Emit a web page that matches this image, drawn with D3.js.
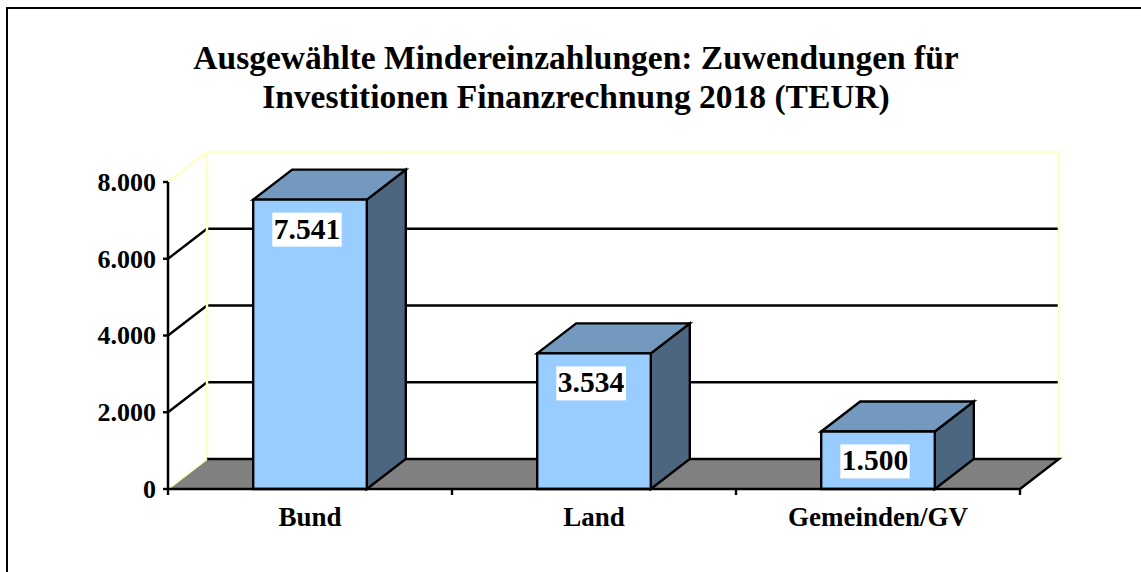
<!DOCTYPE html>
<html>
<head>
<meta charset="utf-8">
<script src="https://cdn.jsdelivr.net/npm/d3@7"></script>
<style>
  html, body { margin: 0; padding: 0; background: #fff; }
  svg { display: block; }
  text { font-family: "Liberation Serif", serif; font-weight: bold; fill: #000; }
</style>
</head>
<body>
<svg id="chart" width="1141" height="572"></svg>
<script>
// data
const categories = ["Bund", "Land", "Gemeinden/GV"];
const values = [7541, 3534, 1500];
const yTicks = [0, 2000, 4000, 6000, 8000];
const titleLines = [
  "Ausgewählte Mindereinzahlungen: Zuwendungen für",
  "Investitionen Finanzrechnung 2018 (TEUR)"
];

const fmt = (v) => d3.format(",")(v).replace(/,/g, ".");

const svg = d3.select("#chart");
const W = 1141, H = 572;

// frame (only left/top edges fall inside the picture)
svg.append("rect").attr("x", 7).attr("y", 8).attr("width", W + 20).attr("height", H + 20)
  .attr("fill", "none").attr("stroke", "#000").attr("stroke-width", 2);

// title
svg.append("g").selectAll("text").data(titleLines).join("text")
  .attr("x", 576).attr("y", (d, i) => 69 + i * 39).attr("text-anchor", "middle")
  .attr("font-size", 33.5).text((d) => d);

// 3d geometry
const DX = 39, DY = -30;
const x = d3.scaleBand().domain(categories).range([168, 1020]).padding(0);
const y = d3.scaleLinear().domain([0, 8000]).range([489, 182]);
const x0 = x.range()[0], x1 = x.range()[1];
const poly = (pts) => pts.map((p) => `${p[0]},${p[1]}`).join(" ");
const wallEdge = "#ffffc8";

// back wall
svg.append("polygon")
  .attr("points", poly([[x0 + DX, y(8000) + DY], [x1 + DX, y(8000) + DY], [x1 + DX, y(0) + DY], [x0 + DX, y(0) + DY]]))
  .attr("fill", "#fff").attr("stroke", "none");

// gridlines on side wall and back wall
const grid = yTicks.filter((t) => t > 0 && t < 8000);
svg.append("g").selectAll("polyline").data(grid).join("polyline")
  .attr("points", (t) => poly([[x0, y(t)], [x0 + DX, y(t) + DY], [x1 + DX, y(t) + DY]]))
  .attr("fill", "none").attr("stroke", "#000").attr("stroke-width", 2.4);

// wall edges (pale yellow)
svg.append("polyline")
  .attr("points", poly([[x0, y(8000)], [x0 + DX, y(8000) + DY], [x1 + DX, y(8000) + DY], [x1 + DX, y(0) + DY]]))
  .attr("fill", "none").attr("stroke", wallEdge).attr("stroke-width", 2.5);
svg.append("line")
  .attr("x1", x0 + DX).attr("y1", y(8000) + DY).attr("x2", x0 + DX).attr("y2", y(0) + DY)
  .attr("stroke", wallEdge).attr("stroke-width", 2.5);

// floor
svg.append("polygon")
  .attr("points", poly([[x0, y(0)], [x1, y(0)], [x1 + DX, y(0) + DY], [x0 + DX, y(0) + DY]]))
  .attr("fill", "#808080").attr("stroke", "none");
svg.append("polyline")
  .attr("points", poly([[x0 + DX, y(0) + DY], [x1 + DX, y(0) + DY], [x1, y(0)]]))
  .attr("fill", "none").attr("stroke", "#000").attr("stroke-width", 2.4);
svg.append("line")
  .attr("x1", x0).attr("y1", y(0)).attr("x2", x0 + DX).attr("y2", y(0) + DY)
  .attr("stroke", wallEdge).attr("stroke-width", 2);

// bars (front, top, side faces)
const bw = x.bandwidth() * 0.4;
const bars = svg.append("g").selectAll("g").data(categories).join("g");
bars.each(function (c, i) {
  const g = d3.select(this);
  const l = x(c) + (x.bandwidth() - bw) / 2, r = l + bw;
  const top = y(values[i]), bot = y(0);
  const face = (pts, fill) => g.append("polygon").attr("points", poly(pts)).attr("fill", fill)
    .attr("stroke", "#000").attr("stroke-width", 2.4).attr("stroke-linejoin", "miter");
  face([[r, top], [r + DX, top + DY], [r + DX, bot + DY], [r, bot]], "#4d6680");
  face([[l, top], [l + DX, top + DY], [r + DX, top + DY], [r, top]], "#7399bf");
  face([[l, top], [r, top], [r, bot], [l, bot]], "#99ccff");
});

// data labels on white boxes
bars.each(function (c, i) {
  const g = d3.select(this);
  const cx = x(c) + x.bandwidth() / 2 - 3;
  const ty = y(values[i]) + 13;
  const t = g.append("text").attr("x", cx).attr("y", ty + 26).attr("text-anchor", "middle")
    .attr("font-size", 29.5).text(fmt(values[i]));
  const bb = t.node().getBBox();
  g.insert("rect", "text").attr("x", bb.x - 1.5).attr("y", ty).attr("width", bb.width + 3)
    .attr("height", 34).attr("fill", "#fff");
});

// y axis
svg.append("line").attr("x1", x0).attr("x2", x0).attr("y1", y(8000)).attr("y2", y(0))
  .attr("stroke", "#000").attr("stroke-width", 2.5);
const ya = svg.append("g").selectAll("g").data(yTicks).join("g");
ya.append("line").attr("x1", x0 - 5).attr("x2", x0).attr("y1", (d) => y(d)).attr("y2", (d) => y(d))
  .attr("stroke", "#000").attr("stroke-width", 2.4);
ya.append("text").attr("x", x0 - 12).attr("y", (d) => y(d)).attr("dy", "0.34em")
  .attr("text-anchor", "end").attr("font-size", 26).text((d) => fmt(d));

// x axis
svg.append("line").attr("x1", x0).attr("x2", x1).attr("y1", y(0)).attr("y2", y(0))
  .attr("stroke", "#000").attr("stroke-width", 2.5);
const xb = categories.map((c) => x(c)).concat([x1]);
svg.append("g").selectAll("line").data(xb).join("line")
  .attr("x1", (d) => d).attr("x2", (d) => d).attr("y1", y(0)).attr("y2", y(0) + 6)
  .attr("stroke", "#000").attr("stroke-width", 2.4);
svg.append("g").selectAll("text").data(categories).join("text")
  .attr("x", (d) => x(d) + x.bandwidth() / 2).attr("y", 526).attr("text-anchor", "middle")
  .attr("font-size", 27).text((d) => d);
</script>
</body>
</html>
